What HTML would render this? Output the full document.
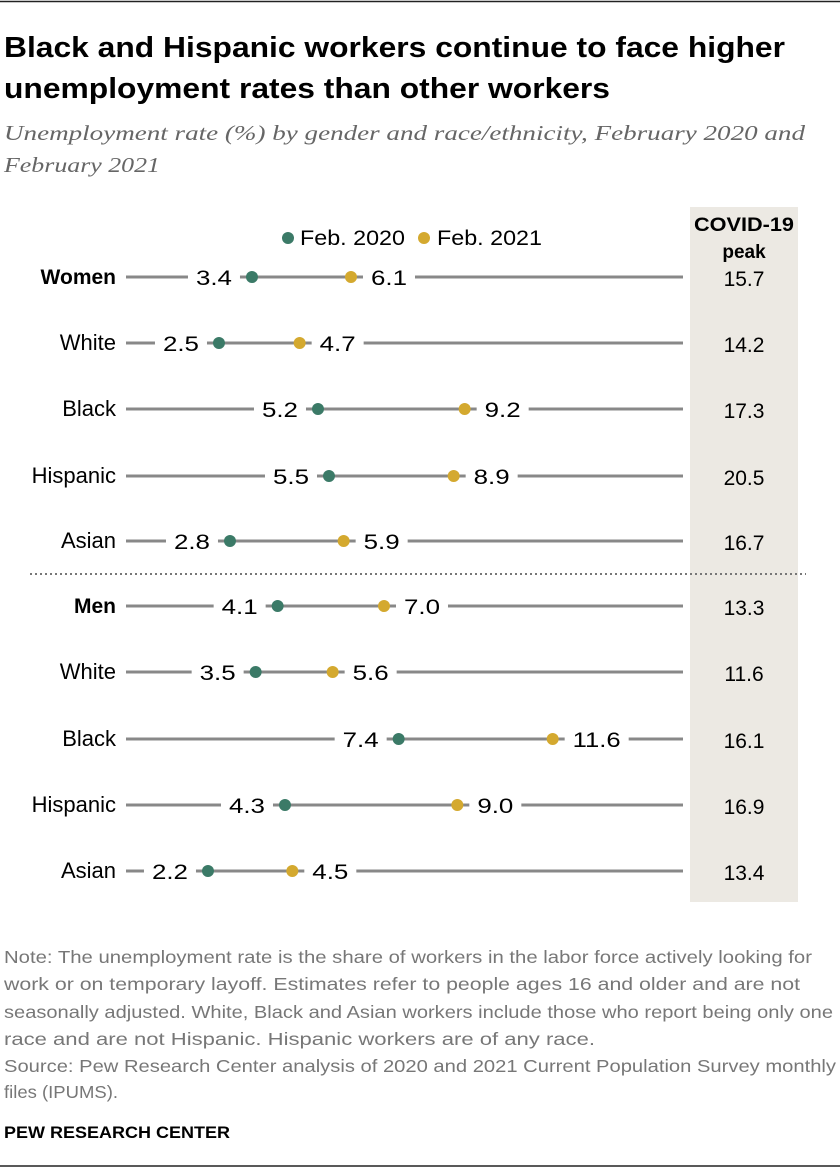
<!DOCTYPE html><html><head><style>body{margin:0;background:#fff}svg{display:block}</style></head><body>
<svg width="840" height="1176" xmlns="http://www.w3.org/2000/svg" font-family="Liberation Sans, sans-serif">
<line x1="0" y1="1.5" x2="840" y2="1.5" stroke="#222" stroke-width="1.5"/>
<text font-weight="bold" font-size="29" fill="#000"><tspan x="4" y="57" textLength="781" lengthAdjust="spacingAndGlyphs">Black and Hispanic workers continue to face higher</tspan><tspan x="4" y="98" textLength="606" lengthAdjust="spacingAndGlyphs">unemployment rates than other workers</tspan></text>
<text font-family="Liberation Serif, serif" font-style="italic" font-size="21.5" fill="#666"><tspan x="4" y="140" textLength="801" lengthAdjust="spacingAndGlyphs">Unemployment rate (%) by gender and race/ethnicity, February 2020 and</tspan><tspan x="4" y="172" textLength="156" lengthAdjust="spacingAndGlyphs">February 2021</tspan></text>
<rect x="690" y="207" width="108" height="695" fill="#ece9e3"/>
<text x="744" y="231" text-anchor="middle" font-weight="bold" font-size="19" textLength="100" lengthAdjust="spacingAndGlyphs">COVID-19</text>
<text x="744" y="258" text-anchor="middle" font-weight="bold" font-size="19">peak</text>
<circle cx="288" cy="238" r="6" fill="#3b7a67"/><text x="300" y="245" font-size="21" textLength="105" lengthAdjust="spacingAndGlyphs">Feb. 2020</text>
<circle cx="424" cy="238" r="6" fill="#d4a92f"/><text x="437" y="245" font-size="21" textLength="105" lengthAdjust="spacingAndGlyphs">Feb. 2021</text>
<line x1="30" y1="574" x2="806" y2="574" stroke="#777" stroke-width="2" stroke-dasharray="2,3"/>
<g id="rows" font-size="21"></g>
<text font-size="17.5" fill="#777"><tspan x="4" y="963" textLength="808" lengthAdjust="spacingAndGlyphs">Note: The unemployment rate is the share of workers in the labor force actively looking for</tspan><tspan x="4" y="990" textLength="796" lengthAdjust="spacingAndGlyphs">work or on temporary layoff. Estimates refer to people ages 16 and older and are not</tspan><tspan x="4" y="1018" textLength="829" lengthAdjust="spacingAndGlyphs">seasonally adjusted. White, Black and Asian workers include those who report being only one</tspan><tspan x="4" y="1045" textLength="591" lengthAdjust="spacingAndGlyphs">race and are not Hispanic. Hispanic workers are of any race.</tspan><tspan x="4" y="1072" textLength="832" lengthAdjust="spacingAndGlyphs">Source: Pew Research Center analysis of 2020 and 2021 Current Population Survey monthly</tspan><tspan x="4" y="1098" textLength="114" lengthAdjust="spacingAndGlyphs">files (IPUMS).</tspan></text>
<text x="4" y="1138" font-weight="bold" font-size="17" fill="#000" textLength="226" lengthAdjust="spacingAndGlyphs">PEW RESEARCH CENTER</text>
<line x1="0" y1="1166" x2="840" y2="1166" stroke="#222" stroke-width="1.5"/>
</svg>
<script>
var d=[["Women",3.4,6.1,15.7,277,1],["White",2.5,4.7,14.2,343],["Black",5.2,9.2,17.3,409],["Hispanic",5.5,8.9,20.5,476],["Asian",2.8,5.9,16.7,541],["Men",4.1,7.0,13.3,606,1],["White",3.5,5.6,11.6,672],["Black",7.4,11.6,16.1,739],["Hispanic",4.3,9.0,16.9,805],["Asian",2.2,4.5,13.4,871]];
var g=document.getElementById("rows"),s="",X=v=>127.3+v*36.67;
d.forEach(r=>{var y=r[4],a=X(r[1]),b=X(r[2]),l1=r[1].toFixed(1),l2=r[2].toFixed(1);
var w1=l1.length*12,w2=l2.length*12;
s+=`<line x1="126" y1="${y}" x2="683" y2="${y}" stroke="#888" stroke-width="3"/>`;
s+=`<rect x="${a-w1-28}" y="${y-12}" width="${w1+16}" height="24" fill="#fff"/>`;
s+=`<rect x="${b+12}" y="${y-12}" width="${w2+16}" height="24" fill="#fff"/>`;
s+=`<line x1="${a}" y1="${y}" x2="${b}" y2="${y}" stroke="#888" stroke-width="3"/>`;
s+=`<text x="${a-20}" y="${y+8}" text-anchor="end" textLength="${w1}" lengthAdjust="spacingAndGlyphs">${l1}</text>`;
s+=`<text x="${b+20}" y="${y+8}" textLength="${w2}" lengthAdjust="spacingAndGlyphs">${l2}</text>`;
s+=`<circle cx="${a}" cy="${y}" r="6" fill="#3b7a67"/><circle cx="${b}" cy="${y}" r="6" fill="#d4a92f"/>`;
s+=`<text x="116" y="${y+7}" text-anchor="end" ${r[5]?'font-weight="bold" font-size="21"':'font-size="22"'}>${r[0]}</text>`;
s+=`<text x="744" y="${y+9}" text-anchor="middle">${r[3].toFixed(1)}</text>`;});
g.innerHTML=s;
</script>
</body></html>
